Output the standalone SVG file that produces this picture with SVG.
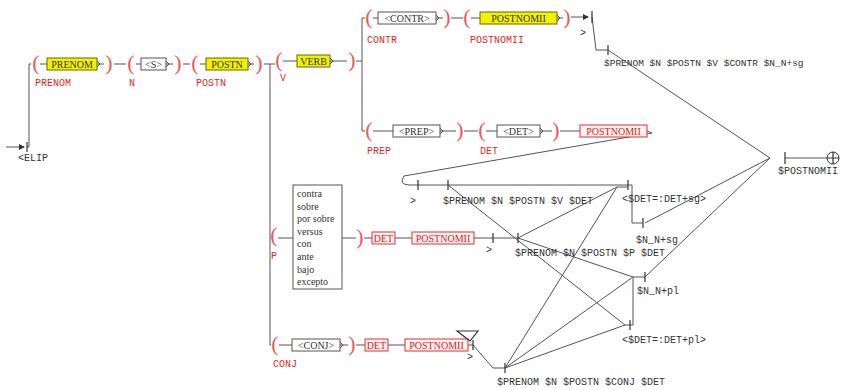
<svg xmlns="http://www.w3.org/2000/svg" width="845" height="390" viewBox="0 0 845 390">
<style>
.c{stroke:#555;stroke-width:1;fill:none}
.t{stroke:#333;stroke-width:1.2;fill:none}
.by{fill:#f2f200;stroke:#6b6b00;stroke-width:1}
.bw{fill:#fff;stroke:#555;stroke-width:1}
.br{fill:#fff2f2;stroke:#e03030;stroke-width:1}
.tb{font-family:"Liberation Serif",serif;font-size:10px;text-anchor:middle;fill:#333}
.tr{font-family:"Liberation Serif",serif;font-size:10px;text-anchor:middle;fill:#e02020}
.p{font-family:"Liberation Serif",serif;font-size:22px;fill:#e85a5a;text-anchor:middle}
.l{font-family:"Liberation Mono",monospace;font-size:10px;fill:#e02828}
.o{font-family:"Liberation Mono",monospace;font-size:10px;fill:#333}
.li{font-family:"Liberation Serif",serif;font-size:10px;fill:#333}
</style>
<defs>
<marker id="ar" markerWidth="6" markerHeight="6" refX="5" refY="3" orient="auto"><path d="M0,0 L6,3 L0,6 z" fill="#333"/></marker>
</defs>
<rect width="845" height="390" fill="#fff"/>
<g id="connectors">
<path class="c" d="M6,147 H24" marker-end="url(#ar)"/>
<path class="c" d="M27,147 H29 V64 H31"/>
<path class="c" d="M40,64 H47 M97,64 H104 M114,64 H126 M136,64 H141 M166,64 H173 M183,64 H190 M200,64 H206 M248,64 H254"/>
<path class="c" d="M264,64 H270 V345 H271 M270,64 H275"/>
<path class="c" d="M283,61 H297 M330,61 H347 M356,61 H362 M362,18 V131 M362,18 H365 M362,131 H365"/>
<path class="c" d="M373,18 H378 M436,18 H443 M451,18 H463 M471,18 H480 M557,18 H563"/>
<path class="c" d="M571,17 H588" marker-end="url(#ar)"/>
<path class="c" d="M592,17 L596,50 H608 M608,50 L770,158"/>
<path class="c" d="M373,131 H393 M440,131 H456 M464,131 H478 M486,131 H497 M540,131 H552 M560,131 H580"/>
<path class="c" d="M647,131 L652,133 L404,176 Q398,185 410,185 H628 M628,185 H632 V223 H643 M645,223 L770,158"/>
<path class="c" d="M278,238 H293 M342,238 H356 M364,238 H372 M395,238 H412 M474,238 H518"/>
<path class="c" d="M518,238 L617,187 H628 M518,238 L633,277 H645 M645,277 L770,158"/>
<path class="c" d="M448,185 L625,325 H630"/>
<path class="c" d="M279,345 H292 M340,345 H348 M356,345 H365 M388,345 H405 M468,345 H473 L493,368 H505"/>
<path class="c" d="M505,368 L617,187 M505,368 L633,277 M505,368 L625,325"/>
<path class="c" d="M630,325 H633 V277"/>
<path class="c" d="M785,158 H827"/>
</g>
<g id="start">
<line class="t" x1="27" y1="142" x2="27" y2="152"/>
<text class="o" x="18" y="161">&lt;ELIP</text>
</g>
<g id="prenom">
<text class="p" x="36" y="70">(</text>
<rect class="by" x="47" y="58" width="50" height="12"/>
<path class="c" d="M97,61 l3,3 l-3,3"/>
<text class="tb" x="72" y="67.5">PRENOM</text>
<text class="p" x="109" y="70">)</text>
<text class="l" x="35" y="86">PRENOM</text>
</g>
<g id="n">
<text class="p" x="131" y="70">(</text>
<rect class="bw" x="141" y="58" width="25" height="12"/>
<path class="c" d="M166,61 l3,3 l-3,3"/>
<text class="tb" x="153.5" y="67.5">&lt;S&gt;</text>
<text class="p" x="178" y="70">)</text>
<text class="l" x="129" y="86">N</text>
</g>
<g id="postn">
<text class="p" x="195" y="70">(</text>
<rect class="by" x="206" y="58" width="42" height="12"/>
<path class="c" d="M248,61 l3,3 l-3,3"/>
<text class="tb" x="227" y="67.5">POSTN</text>
<text class="p" x="259" y="70">)</text>
<text class="l" x="196" y="86">POSTN</text>
</g>
<g id="v">
<text class="p" x="279" y="67">(</text>
<rect class="by" x="297" y="55" width="33" height="12"/>
<path class="c" d="M330,58 l3,3 l-3,3"/>
<text class="tb" x="313.5" y="64.5">VERB</text>
<text class="p" x="352" y="67">)</text>
<text class="l" x="280" y="81">V</text>
</g>
<g id="contr">
<text class="p" x="369" y="24">(</text>
<rect class="bw" x="378" y="12" width="58" height="12"/>
<path class="c" d="M436,15 l3,3 l-3,3"/>
<text class="tb" x="407" y="21.5">&lt;CONTR&gt;</text>
<text class="p" x="447" y="24">)</text>
<text class="l" x="367" y="43">CONTR</text>
</g>
<g id="postnomii-contr">
<text class="p" x="467" y="24">(</text>
<rect class="by" x="480" y="12" width="77" height="12"/>
<path class="c" d="M557,15 l3,3 l-3,3"/>
<text class="tb" x="518.5" y="21.5">POSTNOMII</text>
<text class="p" x="567" y="24">)</text>
<text class="l" x="470" y="43">POSTNOMII</text>
</g>
<g id="gt-contr">
<line class="t" x1="592" y1="11" x2="592" y2="23"/>
<text class="o" x="580" y="36">&gt;</text>
</g>
<g id="out-contr">
<line class="t" x1="608" y1="45" x2="608" y2="55"/>
<text class="o" x="604" y="66" style="font-size:9.5px">$PRENOM $N $POSTN $V $CONTR $N_N+sg</text>
</g>
<g id="prep">
<text class="p" x="369" y="137">(</text>
<rect class="bw" x="393" y="125" width="47" height="12"/>
<path class="c" d="M440,128 l3,3 l-3,3"/>
<text class="tb" x="416.5" y="134.5">&lt;PREP&gt;</text>
<text class="p" x="460" y="137">)</text>
<text class="l" x="367" y="154">PREP</text>
</g>
<g id="det-prep">
<text class="p" x="482" y="137">(</text>
<rect class="bw" x="497" y="125" width="43" height="12"/>
<path class="c" d="M540,128 l3,3 l-3,3"/>
<text class="tb" x="518.5" y="134.5">&lt;DET&gt;</text>
<text class="p" x="556" y="137">)</text>
<text class="l" x="480" y="154">DET</text>
</g>
<g id="postnomii-prep">
<rect class="br" x="580" y="125" width="67" height="12"/>
<text class="tr" x="613.5" y="134.5">POSTNOMII</text>
</g>
<g id="gt-prep">
<line class="t" x1="418" y1="180" x2="418" y2="190"/>
<text class="o" x="410" y="204">&gt;</text>
</g>
<g id="out-vdet">
<line class="t" x1="448" y1="180" x2="448" y2="190"/>
<text class="o" x="443" y="204">$PRENOM $N $POSTN $V $DET</text>
</g>
<g id="det-sg">
<line class="t" x1="628" y1="180" x2="628" y2="190"/>
<text class="o" x="622" y="202">&lt;$DET=:DET+sg&gt;</text>
</g>
<g id="nn-sg">
<line class="t" x1="643" y1="218" x2="643" y2="228"/>
<text class="o" x="636" y="243">$N_N+sg</text>
</g>
<g id="p">
<text class="p" x="274" y="242">(</text>
<text class="l" x="271" y="259">P</text>
<rect class="bw" x="293" y="185" width="49" height="104"/>
<text class="li" x="297" y="197">contra</text>
<text class="li" x="297" y="210">sobre</text>
<text class="li" x="297" y="222">por sobre</text>
<text class="li" x="297" y="235">versus</text>
<text class="li" x="297" y="247">con</text>
<text class="li" x="297" y="260">ante</text>
<text class="li" x="297" y="273">bajo</text>
<text class="li" x="297" y="285">excepto</text>
<text class="p" x="360" y="244">)</text>
</g>
<g id="det-p">
<rect class="br" x="372" y="232" width="23" height="12"/>
<text class="tr" x="383.5" y="241.5">DET</text>
</g>
<g id="postnomii-p">
<rect class="br" x="412" y="232" width="62" height="12"/>
<text class="tr" x="443" y="241.5">POSTNOMII</text>
</g>
<g id="gt-p">
<line class="t" x1="493" y1="233" x2="493" y2="243"/>
<text class="o" x="486" y="253">&gt;</text>
</g>
<g id="out-pdet">
<line class="t" x1="518" y1="233" x2="518" y2="243"/>
<text class="o" x="515" y="256">$PRENOM $N $POSTN $P $DET</text>
</g>
<g id="nn-pl">
<line class="t" x1="645" y1="272" x2="645" y2="282"/>
<text class="o" x="637" y="294">$N_N+pl</text>
</g>
<g id="det-pl">
<line class="t" x1="630" y1="320" x2="630" y2="330"/>
<text class="o" x="622" y="343">&lt;$DET=:DET+pl&gt;</text>
</g>
<g id="conj">
<text class="p" x="275" y="351">(</text>
<rect class="bw" x="292" y="339" width="48" height="12"/>
<path class="c" d="M340,342 l3,3 l-3,3"/>
<text class="tb" x="316" y="348.5">&lt;CONJ&gt;</text>
<text class="p" x="352" y="351">)</text>
<text class="l" x="273" y="367">CONJ</text>
</g>
<g id="det-conj">
<rect class="br" x="365" y="339" width="23" height="12"/>
<text class="tr" x="376.5" y="348.5">DET</text>
</g>
<g id="postnomii-conj">
<rect class="br" x="405" y="339" width="63" height="12"/>
<text class="tr" x="436.5" y="348.5">POSTNOMII</text>
</g>
<g id="gt-conj">
<polygon class="t" points="457,331 478,331 470,341"/>
<line class="t" x1="473" y1="340" x2="473" y2="350"/>
<text class="o" x="467" y="360">&gt;</text>
</g>
<g id="out-conj">
<line class="t" x1="505" y1="363" x2="505" y2="373"/>
<text class="o" x="497" y="385">$PRENOM $N $POSTN $CONJ $DET</text>
</g>
<g id="final">
<line class="t" x1="785" y1="152" x2="785" y2="164"/>
<text class="o" x="778" y="174">$POSTNOMII</text>
<circle cx="833" cy="158" r="6" fill="#fff" stroke="#333"/>
<path class="t" d="M827,158 H839 M833,152 V164"/>
</g>
</svg>
